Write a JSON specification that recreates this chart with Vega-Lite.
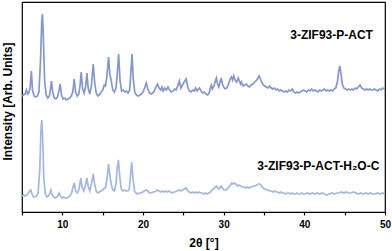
{
  "$schema": "https://vega.github.io/schema/vega-lite/v6.json",
  "width": 363,
  "height": 210,
  "autosize": {"type": "none"},
  "padding": {"left": 22, "top": 2, "right": 7, "bottom": 39},
  "background": "white",
  "config": {"view": {"stroke": "#000", "strokeWidth": 1.2}, "font": "Liberation Sans"},
  "datasets": {
    "top": [
      {"x":5.0,"y":116},{"x":5.2,"y":117},{"x":5.4,"y":118},{"x":5.55,"y":122},{"x":5.7,"y":118},{"x":5.85,"y":119},{"x":6.0,"y":124},{"x":6.16,"y":141},{"x":6.3,"y":122},{"x":6.5,"y":116},{"x":6.7,"y":115},{"x":6.9,"y":116},{"x":7.1,"y":120},{"x":7.3,"y":152},{"x":7.45,"y":192},{"x":7.53,"y":198},{"x":7.62,"y":182},{"x":7.8,"y":132},{"x":8.0,"y":117},{"x":8.2,"y":114},{"x":8.4,"y":116},{"x":8.55,"y":124},{"x":8.65,"y":131},{"x":8.8,"y":120},{"x":9.0,"y":114},{"x":9.2,"y":113},{"x":9.4,"y":115},{"x":9.6,"y":122},{"x":9.73,"y":128},{"x":9.9,"y":117},{"x":10.1,"y":113},{"x":10.3,"y":114},{"x":10.5,"y":112},{"x":10.7,"y":113},{"x":10.9,"y":114},{"x":11.1,"y":116},{"x":11.3,"y":120},{"x":11.47,"y":133},{"x":11.65,"y":120},{"x":11.85,"y":116},{"x":12.05,"y":118},{"x":12.2,"y":127},{"x":12.34,"y":140},{"x":12.5,"y":124},{"x":12.7,"y":119},{"x":12.9,"y":126},{"x":13.05,"y":139},{"x":13.2,"y":124},{"x":13.4,"y":118},{"x":13.6,"y":126},{"x":13.83,"y":148},{"x":14.0,"y":130},{"x":14.2,"y":119},{"x":14.4,"y":116},{"x":14.6,"y":117},{"x":14.8,"y":120},{"x":15.0,"y":122},{"x":15.2,"y":127},{"x":15.35,"y":126},{"x":15.5,"y":134},{"x":15.73,"y":155},{"x":15.9,"y":137},{"x":16.05,"y":132},{"x":16.25,"y":122},{"x":16.45,"y":120},{"x":16.65,"y":124},{"x":16.8,"y":137},{"x":16.98,"y":158},{"x":17.15,"y":132},{"x":17.35,"y":121},{"x":17.55,"y":122},{"x":17.75,"y":120},{"x":17.95,"y":121},{"x":18.15,"y":119},{"x":18.35,"y":122},{"x":18.5,"y":140},{"x":18.64,"y":158},{"x":18.8,"y":132},{"x":19.0,"y":119},{"x":19.2,"y":117},{"x":19.4,"y":116},{"x":19.6,"y":117},{"x":19.8,"y":118},{"x":20.0,"y":120},{"x":20.2,"y":124},{"x":20.4,"y":129},{"x":20.6,"y":123},{"x":20.8,"y":119},{"x":21.0,"y":118},{"x":21.2,"y":119},{"x":21.4,"y":121},{"x":21.6,"y":125},{"x":21.8,"y":128},{"x":22.0,"y":124},{"x":22.2,"y":122},{"x":22.35,"y":125},{"x":22.5,"y":121},{"x":22.7,"y":124},{"x":22.9,"y":122},{"x":23.1,"y":125},{"x":23.3,"y":122},{"x":23.5,"y":120},{"x":23.7,"y":121},{"x":23.9,"y":123},{"x":24.1,"y":122},{"x":24.3,"y":126},{"x":24.5,"y":131},{"x":24.7,"y":124},{"x":24.9,"y":127},{"x":25.1,"y":130},{"x":25.35,"y":133},{"x":25.55,"y":125},{"x":25.75,"y":121},{"x":25.95,"y":120},{"x":26.15,"y":122},{"x":26.35,"y":121},{"x":26.5,"y":124},{"x":26.7,"y":121},{"x":26.85,"y":123},{"x":27.0,"y":124},{"x":27.2,"y":121},{"x":27.4,"y":119},{"x":27.6,"y":120},{"x":27.8,"y":118},{"x":28.0,"y":117},{"x":28.2,"y":119},{"x":28.35,"y":124},{"x":28.47,"y":127},{"x":28.6,"y":123},{"x":28.8,"y":126},{"x":29.0,"y":132},{"x":29.1,"y":134},{"x":29.25,"y":128},{"x":29.4,"y":125},{"x":29.55,"y":130},{"x":29.7,"y":134},{"x":29.85,"y":128},{"x":30.0,"y":125},{"x":30.2,"y":123},{"x":30.4,"y":124},{"x":30.6,"y":128},{"x":30.8,"y":133},{"x":30.96,"y":135},{"x":31.1,"y":132},{"x":31.25,"y":136},{"x":31.4,"y":132},{"x":31.6,"y":130},{"x":31.8,"y":134},{"x":31.95,"y":131},{"x":32.1,"y":128},{"x":32.2,"y":130},{"x":32.4,"y":126},{"x":32.6,"y":127},{"x":32.8,"y":128},{"x":33.0,"y":126},{"x":33.2,"y":125},{"x":33.4,"y":127},{"x":33.6,"y":128},{"x":33.85,"y":130},{"x":34.1,"y":132},{"x":34.25,"y":134},{"x":34.4,"y":136},{"x":34.55,"y":133},{"x":34.7,"y":130},{"x":34.9,"y":127},{"x":35.1,"y":126},{"x":35.3,"y":125},{"x":35.5,"y":124},{"x":35.7,"y":126},{"x":35.9,"y":124},{"x":36.1,"y":123},{"x":36.3,"y":124},{"x":36.5,"y":122},{"x":36.7,"y":123},{"x":36.9,"y":121},{"x":37.1,"y":122},{"x":37.3,"y":121},{"x":37.5,"y":120},{"x":37.7,"y":121},{"x":37.9,"y":120},{"x":38.1,"y":122},{"x":38.3,"y":121},{"x":38.5,"y":123},{"x":38.7,"y":120},{"x":38.9,"y":119},{"x":39.1,"y":120},{"x":39.3,"y":119},{"x":39.5,"y":120},{"x":39.7,"y":121},{"x":39.9,"y":122},{"x":40.1,"y":121},{"x":40.3,"y":120},{"x":40.5,"y":122},{"x":40.7,"y":121},{"x":40.9,"y":123},{"x":41.1,"y":121},{"x":41.3,"y":122},{"x":41.5,"y":121},{"x":41.7,"y":120},{"x":41.9,"y":122},{"x":42.1,"y":121},{"x":42.3,"y":122},{"x":42.5,"y":123},{"x":42.7,"y":121},{"x":42.9,"y":122},{"x":43.1,"y":121},{"x":43.3,"y":122},{"x":43.5,"y":121},{"x":43.7,"y":123},{"x":43.9,"y":124},{"x":44.1,"y":130},{"x":44.25,"y":140},{"x":44.4,"y":146},{"x":44.55,"y":138},{"x":44.7,"y":128},{"x":44.9,"y":124},{"x":45.1,"y":123},{"x":45.3,"y":122},{"x":45.5,"y":123},{"x":45.7,"y":122},{"x":45.9,"y":123},{"x":46.1,"y":122},{"x":46.3,"y":124},{"x":46.5,"y":123},{"x":46.7,"y":125},{"x":46.9,"y":127},{"x":47.1,"y":124},{"x":47.3,"y":123},{"x":47.5,"y":122},{"x":47.7,"y":123},{"x":47.9,"y":122},{"x":48.1,"y":123},{"x":48.3,"y":122},{"x":48.5,"y":122},{"x":48.7,"y":123},{"x":48.9,"y":122},{"x":49.1,"y":121},{"x":49.3,"y":123},{"x":49.5,"y":122},{"x":49.7,"y":124},{"x":49.9,"y":123},{"x":50.0,"y":123}
    ],
    "bot": [
      {"x":5.0,"y":16},{"x":5.2,"y":17},{"x":5.4,"y":16},{"x":5.6,"y":17},{"x":5.8,"y":19},{"x":5.95,"y":21},{"x":6.08,"y":22},{"x":6.2,"y":19},{"x":6.4,"y":15},{"x":6.6,"y":15},{"x":6.8,"y":16},{"x":7.0,"y":19},{"x":7.2,"y":42},{"x":7.35,"y":82},{"x":7.45,"y":92},{"x":7.55,"y":77},{"x":7.7,"y":34},{"x":7.9,"y":18},{"x":8.1,"y":15},{"x":8.3,"y":16},{"x":8.45,"y":19},{"x":8.57,"y":22},{"x":8.7,"y":18},{"x":8.9,"y":15},{"x":9.1,"y":14},{"x":9.3,"y":15},{"x":9.5,"y":17},{"x":9.6,"y":19},{"x":9.75,"y":16},{"x":9.95,"y":14},{"x":10.15,"y":15},{"x":10.35,"y":14},{"x":10.55,"y":14},{"x":10.75,"y":15},{"x":10.95,"y":16},{"x":11.15,"y":19},{"x":11.3,"y":24},{"x":11.47,"y":29},{"x":11.65,"y":21},{"x":11.85,"y":19},{"x":12.05,"y":22},{"x":12.2,"y":29},{"x":12.3,"y":34},{"x":12.45,"y":25},{"x":12.65,"y":21},{"x":12.85,"y":26},{"x":13.05,"y":34},{"x":13.2,"y":26},{"x":13.4,"y":21},{"x":13.6,"y":28},{"x":13.83,"y":38},{"x":14.0,"y":28},{"x":14.2,"y":21},{"x":14.4,"y":19},{"x":14.6,"y":20},{"x":14.8,"y":21},{"x":15.0,"y":22},{"x":15.2,"y":24},{"x":15.35,"y":24},{"x":15.55,"y":34},{"x":15.73,"y":48},{"x":15.9,"y":36},{"x":16.05,"y":28},{"x":16.25,"y":22},{"x":16.45,"y":21},{"x":16.65,"y":28},{"x":16.8,"y":44},{"x":16.95,"y":52},{"x":17.1,"y":37},{"x":17.3,"y":23},{"x":17.5,"y":21},{"x":17.7,"y":22},{"x":17.9,"y":21},{"x":18.1,"y":21},{"x":18.3,"y":23},{"x":18.45,"y":37},{"x":18.6,"y":50},{"x":18.75,"y":34},{"x":18.95,"y":21},{"x":19.15,"y":19},{"x":19.35,"y":18},{"x":19.55,"y":19},{"x":19.75,"y":19},{"x":19.95,"y":20},{"x":20.15,"y":21},{"x":20.4,"y":22},{"x":20.6,"y":21},{"x":20.8,"y":19},{"x":21.0,"y":19},{"x":21.2,"y":20},{"x":21.4,"y":20},{"x":21.6,"y":21},{"x":21.8,"y":22},{"x":22.0,"y":21},{"x":22.2,"y":20},{"x":22.4,"y":21},{"x":22.6,"y":20},{"x":22.8,"y":21},{"x":23.0,"y":20},{"x":23.2,"y":21},{"x":23.4,"y":20},{"x":23.6,"y":19},{"x":23.8,"y":20},{"x":24.0,"y":20},{"x":24.2,"y":21},{"x":24.5,"y":22},{"x":24.7,"y":21},{"x":24.9,"y":22},{"x":25.1,"y":23},{"x":25.35,"y":24},{"x":25.55,"y":21},{"x":25.75,"y":20},{"x":25.95,"y":19},{"x":26.15,"y":20},{"x":26.35,"y":19},{"x":26.55,"y":20},{"x":26.75,"y":19},{"x":26.95,"y":20},{"x":27.15,"y":19},{"x":27.35,"y":19},{"x":27.55,"y":18},{"x":27.75,"y":19},{"x":27.95,"y":18},{"x":28.15,"y":19},{"x":28.35,"y":20},{"x":28.55,"y":22},{"x":28.75,"y":23},{"x":28.95,"y":25},{"x":29.1,"y":26},{"x":29.25,"y":24},{"x":29.45,"y":23},{"x":29.6,"y":25},{"x":29.7,"y":26},{"x":29.85,"y":24},{"x":30.05,"y":22},{"x":30.25,"y":22},{"x":30.45,"y":23},{"x":30.65,"y":25},{"x":30.85,"y":27},{"x":31.0,"y":29},{"x":31.15,"y":28},{"x":31.3,"y":29},{"x":31.5,"y":28},{"x":31.7,"y":26},{"x":31.9,"y":27},{"x":32.1,"y":26},{"x":32.3,"y":25},{"x":32.5,"y":25},{"x":32.7,"y":24},{"x":32.9,"y":25},{"x":33.1,"y":24},{"x":33.3,"y":25},{"x":33.5,"y":25},{"x":33.7,"y":26},{"x":33.9,"y":26},{"x":34.1,"y":27},{"x":34.3,"y":28},{"x":34.5,"y":28},{"x":34.7,"y":26},{"x":34.9,"y":24},{"x":35.1,"y":23},{"x":35.3,"y":22},{"x":35.5,"y":22},{"x":35.7,"y":21},{"x":35.9,"y":21},{"x":36.1,"y":20},{"x":36.3,"y":21},{"x":36.5,"y":20},{"x":36.7,"y":20},{"x":36.9,"y":19},{"x":37.1,"y":20},{"x":37.3,"y":19},{"x":37.5,"y":19},{"x":37.7,"y":18},{"x":37.9,"y":19},{"x":38.1,"y":19},{"x":38.3,"y":18},{"x":38.5,"y":19},{"x":38.7,"y":18},{"x":38.9,"y":18},{"x":39.1,"y":19},{"x":39.3,"y":18},{"x":39.5,"y":18},{"x":39.7,"y":19},{"x":39.9,"y":18},{"x":40.1,"y":18},{"x":40.4,"y":19},{"x":40.7,"y":18},{"x":41.0,"y":19},{"x":41.3,"y":18},{"x":41.6,"y":19},{"x":41.9,"y":18},{"x":42.2,"y":19},{"x":42.5,"y":18},{"x":42.8,"y":17},{"x":43.1,"y":18},{"x":43.4,"y":19},{"x":43.7,"y":18},{"x":44.0,"y":19},{"x":44.3,"y":19},{"x":44.6,"y":20},{"x":44.9,"y":19},{"x":45.2,"y":20},{"x":45.5,"y":19},{"x":45.8,"y":19},{"x":46.1,"y":20},{"x":46.4,"y":19},{"x":46.7,"y":18},{"x":47.0,"y":19},{"x":47.3,"y":18},{"x":47.6,"y":19},{"x":47.9,"y":18},{"x":48.2,"y":19},{"x":48.5,"y":18},{"x":48.8,"y":18},{"x":49.1,"y":19},{"x":49.4,"y":18},{"x":49.7,"y":19},{"x":50.0,"y":18}
    ],
    "labels": [
      {"x": 48.5, "y": 177, "label": "3-ZIF93-P-ACT"},
      {"x": 49.3, "y": 46, "label": "3-ZIF93-P-ACT-H₂O-C"}
    ]
  },
  "encoding": {
    "x": {
      "field": "x", "type": "quantitative",
      "scale": {"domain": [5, 50], "nice": false, "zero": false},
      "axis": {
        "title": "2θ [°]",
        "values": [5, 10, 15, 20, 25, 30, 35, 40, 45, 50],
        "labelExpr": "datum.value % 10 === 0 ? datum.label : ''",
        "grid": false, "tickSize": 3, "tickColor": "#000", "tickWidth": 1.2,
        "domainColor": "#000", "domainWidth": 1.2,
        "labelFontSize": 10, "labelFontWeight": "bold", "labelColor": "#000",
        "labelPadding": 4, "labelFlush": false, "labelOverlap": false,
        "titleFontSize": 12, "titleFontWeight": "bold", "titleColor": "#000", "titlePadding": 8
      }
    },
    "y": {
      "field": "y", "type": "quantitative",
      "scale": {"domain": [0, 210], "nice": false},
      "axis": {
        "title": "Intensity [Arb. Units]",
        "ticks": false, "labels": false, "domain": false, "grid": false,
        "titleFontSize": 12, "titleFontWeight": "bold", "titleColor": "#000",
        "titleAngle": 270, "titleAlign": "center", "titleBaseline": "middle",
        "titleX": -15, "titleY": 99
      }
    }
  },
  "layer": [
    {"data": {"name": "top"}, "mark": {"type": "line", "color": "#8597cd", "strokeWidth": 1.7, "clip": true}},
    {"data": {"name": "bot"}, "mark": {"type": "line", "color": "#a6b6e1", "strokeWidth": 1.7, "clip": true}},
    {"data": {"name": "labels"}, "mark": {"type": "text", "align": "right", "baseline": "middle", "fontWeight": "bold", "fontSize": 12, "color": "#000"},
     "encoding": {"text": {"field": "label"}}}
  ]
}
